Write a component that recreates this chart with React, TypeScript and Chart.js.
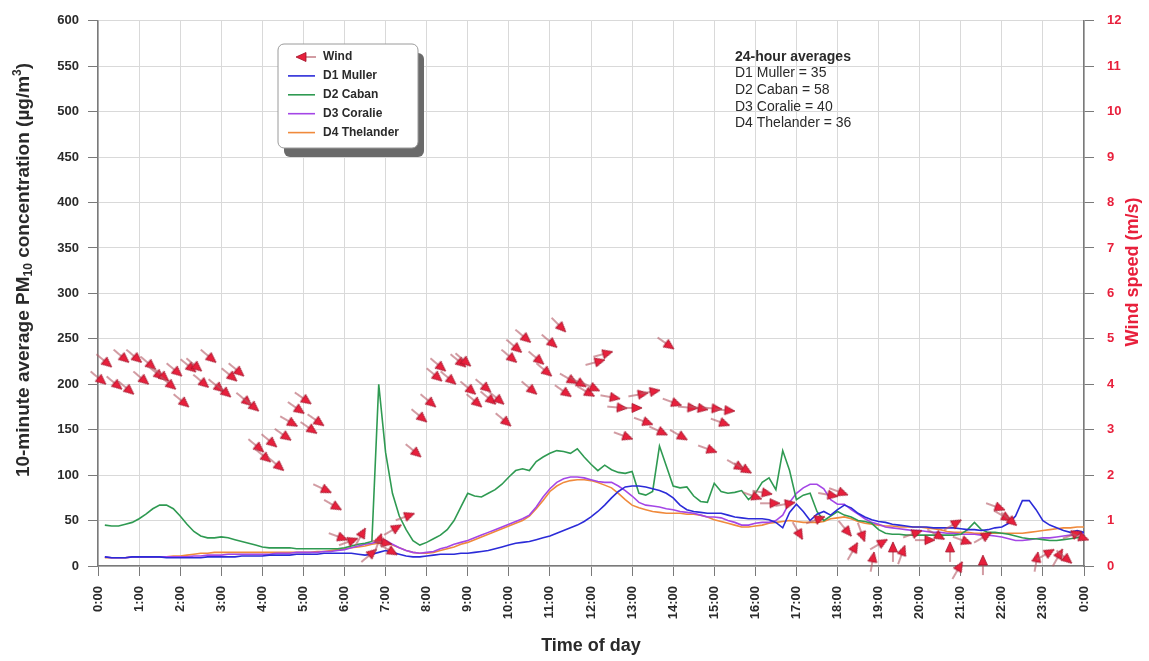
import { useEffect, useRef } from 'react';
import { Chart, registerables } from 'chart.js';

Chart.register(...registerables);

const FONT = '"Liberation Sans", Arial, Helvetica, sans-serif';

// Ten-minute PM10 averages (µg/m³), one value per 10 minutes from 0:10 to 24:00
const d1Muller = [
  10, 9, 9, 9, 10, 10,
  10, 10, 10, 9, 9, 9,
  9, 9, 9, 10, 10, 10,
  10, 10, 11, 11, 11, 11,
  12, 12, 12, 12, 13, 13,
  13, 13, 14, 14, 14, 14,
  14, 13, 12, 13, 15, 17,
  15, 13, 11, 10, 10, 11,
  12, 13, 13, 13, 14, 14,
  15, 16, 17, 19, 21, 23,
  25, 26, 27, 29, 31, 33,
  36, 39, 42, 45, 49, 54,
  60, 67, 75, 82, 87, 88,
  88, 87, 85, 83, 80, 75,
  67, 62, 60, 59, 58, 58,
  58, 56, 54, 53, 52, 52,
  52, 51, 48, 42, 59, 68,
  60, 50, 57, 60, 56, 62,
  67, 64, 58, 54, 51, 49,
  48, 46, 45, 44, 43, 43,
  43, 42, 42, 42, 42, 41,
  40, 40, 39, 40, 42, 43,
  47, 55, 72, 72, 62, 50,
  45, 42, 39, 37, 39, 37,
];

const d2Caban = [
  45, 44, 44, 46, 48, 52,
  57, 63, 67, 67, 63, 55,
  46, 38, 33, 31, 31, 32,
  31, 29, 27, 25, 23, 21,
  20, 20, 20, 20, 19, 19,
  19, 19, 19, 19, 19, 20,
  22, 24, 25, 27, 200, 125,
  80, 55, 40, 28, 23, 26,
  30, 34, 40, 50, 65, 80,
  77, 76, 80, 84, 90, 98,
  105, 107, 105, 115, 120, 124,
  127, 126, 124, 129, 120, 112,
  105, 111, 106, 103, 102, 104,
  80, 78, 82, 132, 110, 88,
  86, 87, 77, 71, 70, 91,
  82, 80, 81, 83, 73, 80,
  92, 97, 84, 127, 105, 73,
  78, 80, 60, 50, 55, 60,
  56, 54, 50, 49, 47, 40,
  36, 35, 35, 34, 34, 34,
  34, 34, 34, 34, 34, 35,
  40, 48, 40, 37, 37, 36,
  35, 33, 31, 30, 30, 29,
  28, 28, 29, 30, 31, 32,
];

const d3Coralie = [
  10, 9, 9, 9, 10, 10,
  10, 10, 10, 10, 10, 10,
  10, 11, 11, 12, 12, 12,
  13, 13, 13, 13, 13, 13,
  13, 14, 14, 14, 15, 15,
  15, 15, 16, 16, 17, 18,
  20, 22, 24, 25, 27, 28,
  24, 20, 17, 15, 14, 15,
  16, 19, 21, 24, 26, 28,
  31, 34, 37, 40, 43, 46,
  49, 52, 56, 65, 76, 85,
  92, 96, 98, 98, 97, 95,
  93, 92, 92, 88, 83, 77,
  70, 67, 66, 65, 63, 62,
  60, 59, 58, 56, 54, 54,
  53, 50, 48, 45, 45, 47,
  48, 48, 50, 56, 70, 80,
  86, 90, 90, 85, 73, 68,
  68, 62, 57, 52, 48, 46,
  43, 42, 41, 40, 39, 39,
  38, 37, 37, 36, 36, 35,
  35, 35, 34, 34, 33, 32,
  30, 28, 28, 29, 30, 31,
  31, 32, 33, 34, 35, 36,
];

const d4Thelander = [
  9, 9, 9, 9, 10, 10,
  10, 10, 10, 10, 11, 11,
  12, 13, 14, 14, 15, 15,
  15, 15, 15, 15, 15, 15,
  15, 15, 15, 15, 15, 15,
  15, 16, 16, 17, 18, 19,
  20, 21, 22, 24, 25, 26,
  23, 20, 17, 15, 14, 14,
  15, 17, 19, 21, 24, 26,
  29, 32, 35, 38, 41, 44,
  47, 50, 55, 63, 72, 82,
  88, 92, 94, 95, 95, 94,
  92, 89, 86, 80, 73, 67,
  64, 62, 60, 59, 58, 58,
  58, 57, 57, 56, 54, 51,
  49, 47, 45, 43, 43, 44,
  45, 47, 48, 49, 50, 49,
  48, 48, 48, 49, 52, 53,
  54, 52, 49, 47, 46, 45,
  44, 44, 43, 43, 43, 43,
  42, 41, 40, 38, 37, 37,
  37, 36, 36, 36, 36, 36,
  36, 36, 36, 37, 38, 39,
  40, 41, 42, 42, 43, 43,
];

// Wind observations: time of day (hours), speed (m/s), arrow heading (degrees clockwise from east)
const windHours = [
  0.10, 0.24, 0.49, 0.66, 0.78, 0.97, 1.14, 1.31, 1.51, 1.63, 1.80, 1.95,
  2.12, 2.29, 2.43, 2.60, 2.78, 2.97, 3.14, 3.29, 3.46, 3.65, 3.82, 3.94,
  4.11, 4.26, 4.43, 4.60, 4.75, 4.92, 5.09, 5.23, 5.40, 5.57, 5.82, 5.96,
  6.21, 6.45, 6.69, 6.86, 7.03, 7.18, 7.28, 7.59, 7.77, 7.91, 8.13, 8.28,
  8.37, 8.62, 8.86, 8.98, 9.10, 9.25, 9.47, 9.59, 9.79, 9.96, 10.10, 10.22,
  10.44, 10.59, 10.76, 10.95, 11.08, 11.30, 11.42, 11.56, 11.78, 11.98, 12.10, 12.22,
  12.41, 12.59, 12.76, 12.90, 13.12, 13.27, 13.39, 13.56, 13.75, 13.92, 14.09, 14.24,
  14.48, 14.73, 14.95, 15.07, 15.26, 15.38, 15.63, 15.80, 16.04, 16.29, 16.48, 16.85,
  17.09, 17.58, 17.89, 18.14, 18.26, 18.43, 18.62, 18.87, 19.11, 19.35, 19.60, 19.94,
  20.25, 20.50, 20.74, 20.91, 20.98, 21.15, 21.54, 21.64, 21.96, 22.13, 22.27, 22.86,
  23.17, 23.42, 23.61, 23.83, 24.00,
];

const windSpeed = [
  4.07, 4.45, 3.96, 4.55, 3.85, 4.55, 4.07, 4.40, 4.18, 4.14, 3.96, 4.25,
  3.57, 4.34, 4.36, 4.00, 4.55, 3.90, 3.79, 4.14, 4.25, 3.60, 3.48, 2.58,
  2.36, 2.69, 2.17, 2.83, 3.13, 3.42, 3.63, 2.98, 3.15, 1.66, 1.29, 0.61,
  0.57, 0.74, 0.30, 0.61, 0.50, 0.30, 0.85, 1.12, 2.47, 3.24, 3.57, 4.14,
  4.36, 4.07, 4.45, 4.47, 3.85, 3.57, 3.90, 3.63, 3.63, 3.15, 4.55, 4.77,
  4.99, 3.85, 4.51, 4.25, 4.88, 5.23, 3.79, 4.07, 4.00, 3.79, 3.90, 4.51,
  4.69, 3.70, 3.48, 2.83, 3.48, 3.79, 3.15, 3.85, 2.93, 4.84, 3.57, 2.83,
  3.48, 3.46, 2.54, 3.46, 3.13, 3.42, 2.17, 2.10, 1.51, 1.60, 1.38, 1.38,
  0.68, 1.05, 1.55, 1.60, 0.74, 0.42, 0.64, 0.20, 0.53, 0.42, 0.35, 0.74,
  0.57, 0.64, 0.42, 0.96, 0.00, 0.53, 0.13, 0.68, 1.27, 1.05, 0.96, 0.20,
  0.31, 0.28, 0.13, 0.72, 0.61,
];

const windDirection = [
  40, 40, 40, 40, 40, 40, 40, 40, 40, 40, 40, 40,
  40, 40, 40, 40, 40, 40, 40, 40, 40, 40, 40, 40,
  40, 40, 40, 35, 30, 35, 35, 35, 35, 25, 30, 20,
  -20, -60, -40, -70, 10, 30, -30, -20, 40, 40, 40, 40,
  40, 40, 40, 40, 40, 40, 40, 40, 40, 40, 40, 40,
  40, 40, 40, 40, 40, 45, 35, 30, 30, 30, 25, -15,
  -15, 10, 5, 20, 0, -10, 20, -10, 25, 35, 20, 30,
  5, 10, 20, 5, 20, 5, 30, 30, 20, 10, 0, -10,
  60, -20, 10, 20, 50, -60, 70, -80, -30, -90, -70, -20,
  0, 30, -90, -30, -60, 20, -90, -30, 20, 30, 40, -80,
  -30, -60, 40, -20, 20,
];

const seriesNames = ['D1 Muller', 'D2 Caban', 'D3 Coralie', 'D4 Thelander'];
const seriesColors = ['#2b2bd8', '#2f9a52', '#a446e6', '#f08a3c'];
const averages = [35, 58, 40, 36];

const WIND_RED = '#e8203c';
const AXIS = '#7a7a7a';
const GRID = '#d9d9d9';
const TEXT = '#2a2a2a';

function makeArrow(): HTMLCanvasElement {
  const c = document.createElement('canvas');
  c.width = 40;
  c.height = 40;
  const g = c.getContext('2d') as CanvasRenderingContext2D;
  g.strokeStyle = '#b45a66';
  g.lineWidth = 1.2;
  g.beginPath();
  g.moveTo(5, 20);
  g.lineTo(17, 20);
  g.stroke();
  g.fillStyle = WIND_RED;
  g.strokeStyle = '#a01028';
  g.lineWidth = 0.8;
  g.beginPath();
  g.moveTo(25, 20);
  g.lineTo(15, 15.5);
  g.lineTo(15, 24.5);
  g.closePath();
  g.fill();
  g.stroke();
  return c;
}

function toPoints(values: number[]) {
  return values.map((v, i) => ({ x: (i + 1) / 6, y: v }));
}

type Part = { t: string; size: number; dy: number };

function drawRotatedTitle(ctx: CanvasRenderingContext2D, parts: Part[], cx: number, cy: number, color: string) {
  ctx.save();
  ctx.translate(cx, cy);
  ctx.rotate(-Math.PI / 2);
  let total = 0;
  for (const p of parts) {
    ctx.font = `bold ${p.size}px ${FONT}`;
    total += ctx.measureText(p.t).width;
  }
  let x = -total / 2;
  ctx.fillStyle = color;
  ctx.textAlign = 'left';
  ctx.textBaseline = 'middle';
  for (const p of parts) {
    ctx.font = `bold ${p.size}px ${FONT}`;
    ctx.fillText(p.t, x, p.dy);
    x += ctx.measureText(p.t).width;
  }
  ctx.restore();
}

export default function App() {
  const ref = useRef<HTMLCanvasElement>(null);

  useEffect(() => {
    const canvas = ref.current;
    if (!canvas) return;
    const arrow = makeArrow();

    const overlay = {
      id: 'overlay',
      afterDraw(chart: Chart) {
        const ctx = chart.ctx;

        drawRotatedTitle(
          ctx,
          [
            { t: '10-minute average PM', size: 19, dy: 0 },
            { t: '10', size: 12, dy: 5 },
            { t: ' concentration (µg/m', size: 19, dy: 0 },
            { t: '3', size: 12, dy: -6 },
            { t: ')', size: 19, dy: 0 },
          ],
          24,
          270,
          TEXT
        );
        drawRotatedTitle(ctx, [{ t: 'Wind speed (m/s)', size: 18, dy: 0 }], 1133, 272, WIND_RED);

        // legend box with drop shadow
        const bx = 278, by = 44, bw = 140, bh = 104;
        ctx.save();
        ctx.fillStyle = '#6a6a6a';
        ctx.beginPath();
        ctx.roundRect(bx + 6, by + 9, bw, bh, 6);
        ctx.fill();
        ctx.fillStyle = '#ffffff';
        ctx.strokeStyle = '#9a9a9a';
        ctx.lineWidth = 1;
        ctx.beginPath();
        ctx.roundRect(bx, by, bw, bh, 6);
        ctx.fill();
        ctx.stroke();

        const rows = ['Wind', ...seriesNames];
        ctx.font = `bold 12px ${FONT}`;
        ctx.textAlign = 'left';
        ctx.textBaseline = 'middle';
        rows.forEach((name, i) => {
          const y = 57 + i * 18.9;
          if (i === 0) {
            ctx.save();
            ctx.translate(301, y);
            ctx.rotate(Math.PI);
            ctx.drawImage(arrow, -20, -20);
            ctx.restore();
          } else {
            ctx.strokeStyle = seriesColors[i - 1];
            ctx.lineWidth = 1.6;
            ctx.beginPath();
            ctx.moveTo(288, y);
            ctx.lineTo(315, y);
            ctx.stroke();
          }
          ctx.fillStyle = TEXT;
          ctx.fillText(name, 323, y);
        });

        // 24-hour averages
        ctx.fillStyle = TEXT;
        ctx.font = `bold 14px ${FONT}`;
        ctx.fillText('24-hour averages', 735, 57);
        ctx.font = `14px ${FONT}`;
        seriesNames.forEach((name, i) => {
          ctx.fillText(`${name} = ${averages[i]}`, 735, 73.5 + i * 16.7);
        });
        ctx.restore();
      },
    };

    const tickFont = { family: FONT, size: 13, weight: 'bold' as const };

    const chart = new Chart(canvas, {
      type: 'line',
      data: {
        datasets: [
          {
            label: 'Wind',
            data: windHours.map((h, i) => ({ x: h, y: windSpeed[i] })),
            yAxisID: 'y1',
            showLine: false,
            pointStyle: arrow,
            pointRotation: windDirection,
            pointRadius: 10,
            clip: false,
          } as any,
          ...[d1Muller, d2Caban, d3Coralie, d4Thelander].map((values, i) => ({
            label: seriesNames[i],
            data: toPoints(values),
            yAxisID: 'y',
            borderColor: seriesColors[i],
            borderWidth: 1.6,
            pointRadius: 0,
            tension: 0,
          })),
        ],
      },
      options: {
        animation: false,
        responsive: false,
        events: [],
        layout: { padding: { top: 18, left: 0, right: 0, bottom: 0 } },
        plugins: { legend: { display: false }, tooltip: { enabled: false } },
        scales: {
          x: {
            type: 'linear',
            min: 0,
            max: 24,
            ticks: {
              stepSize: 1,
              autoSkip: false,
              minRotation: 90,
              maxRotation: 90,
              padding: 10,
              color: TEXT,
              font: tickFont,
              callback: (v: any) => `${Number(v) % 24}:00`,
            },
            grid: { color: GRID, tickColor: AXIS, tickLength: 10, lineWidth: 1 },
            border: { color: AXIS, width: 1.5 },
            title: {
              display: true,
              text: 'Time of day',
              color: TEXT,
              font: { family: FONT, size: 18, weight: 'bold' },
              padding: { top: 0, bottom: 4 },
            },
            afterFit: (s: any) => {
              s.height = 95;
            },
          },
          y: {
            position: 'left',
            min: 0,
            max: 600,
            ticks: { stepSize: 50, padding: 9, color: TEXT, font: tickFont },
            grid: { color: GRID, tickColor: AXIS, tickLength: 10, lineWidth: 1 },
            border: { color: AXIS, width: 1.5 },
            afterFit: (s: any) => {
              s.width = 98;
            },
          },
          y1: {
            position: 'right',
            min: 0,
            max: 12,
            ticks: { stepSize: 1, padding: 13, color: WIND_RED, font: tickFont },
            grid: { drawOnChartArea: false, tickColor: AXIS, tickLength: 10 },
            border: { color: AXIS, width: 1.5 },
            afterFit: (s: any) => {
              s.width = 65;
            },
          },
        },
      },
      plugins: [overlay],
    } as any);

    return () => chart.destroy();
  }, []);

  return (
    <div style={{ position: 'absolute', left: 0, top: 0, width: 1149, height: 661, background: '#ffffff' }}>
      <canvas ref={ref} width={1149} height={661} style={{ display: 'block' }} />
    </div>
  );
}
